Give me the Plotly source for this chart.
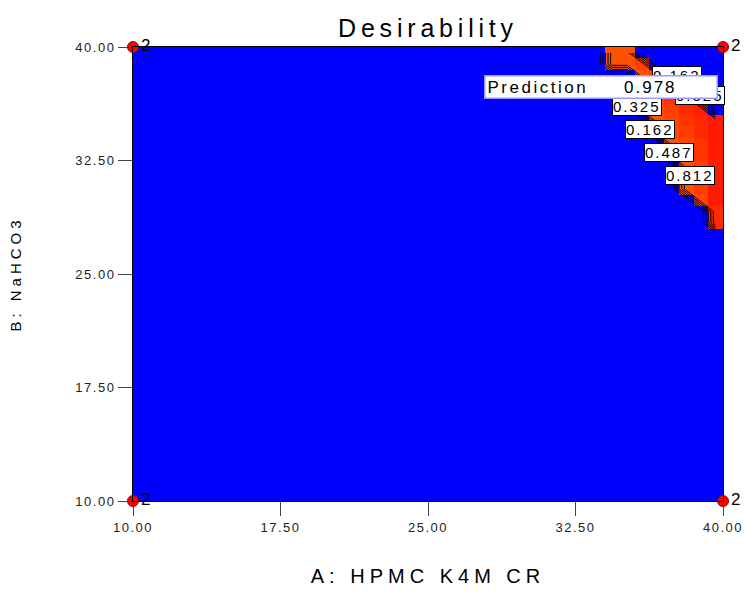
import numpy as np
import plotly.graph_objects as go

# Design space: factor ranges and grid resolution
a_min, a_max = 10.0, 40.0          # A: HPMC K4M CR
b_min, b_max = 10.0, 40.0          # B: NaHCO3
n_cells = 40

# Desirability values in the top-right corner of the grid
# (rows listed from B = 40 downwards, columns for the last 8 A-cells; all other cells are 0)
corner_rows = [
    [0.92, 0.92, 0.00, 0.00, 0.00, 0.00, 0.00, 0.000],
    [0.92, 0.92, 0.94, 0.00, 0.00, 0.00, 0.00, 0.000],
    [0.00, 0.00, 0.92, 0.94, 0.00, 0.00, 0.00, 0.000],
    [0.00, 0.00, 0.92, 0.94, 0.95, 0.00, 0.00, 0.000],
    [0.00, 0.00, 0.92, 0.93, 0.95, 0.96, 0.00, 0.000],
    [0.00, 0.00, 0.92, 0.93, 0.94, 0.96, 0.97, 0.000],
    [0.00, 0.00, 0.00, 0.92, 0.93, 0.95, 0.96, 0.975],
    [0.00, 0.00, 0.00, 0.92, 0.93, 0.94, 0.96, 0.975],
    [0.00, 0.00, 0.00, 0.00, 0.92, 0.93, 0.95, 0.975],
    [0.00, 0.00, 0.00, 0.00, 0.92, 0.93, 0.95, 0.975],
    [0.00, 0.00, 0.00, 0.00, 0.00, 0.92, 0.94, 0.975],
    [0.00, 0.00, 0.00, 0.00, 0.00, 0.92, 0.94, 0.975],
    [0.00, 0.00, 0.00, 0.00, 0.00, 0.92, 0.94, 0.975],
    [0.00, 0.00, 0.00, 0.00, 0.00, 0.00, 0.93, 0.975],
    [0.00, 0.00, 0.00, 0.00, 0.00, 0.00, 0.00, 0.960],
    [0.00, 0.00, 0.00, 0.00, 0.00, 0.00, 0.00, 0.960],
]

# Contour levels and where their labels sit (A, B)
contour_levels = [0.1625, 0.325, 0.4875, 0.65, 0.8125]
label_values = [0.162, 0.325, 0.325, 0.162, 0.487, 0.812]
label_a = [37.66, 38.83, 35.63, 36.29, 37.25, 38.32]
label_b = [38.15, 36.80, 36.10, 34.58, 33.00, 31.48]

# Design points (corners of the square, replicated twice)
design_a = [10.0, 10.0, 40.0, 40.0]
design_b = [10.0, 40.0, 10.0, 40.0]
design_reps = [2, 2, 2, 2]

# Optimum prediction flag
prediction_value = 0.978
flag_a, flag_b = 27.85, 37.33

tick_vals = [10.0, 17.5, 25.0, 32.5, 40.0]


def spaced(text, px):
    """Wrap text in a span with extra letter spacing."""
    return f'<span style="letter-spacing:{px}px">{text}</span>'


# Build the full grid (row 0 = lowest B)
step = (a_max - a_min) / n_cells
a_centers = a_min + step / 2 + step * np.arange(n_cells)
b_centers = b_min + step / 2 + step * np.arange(n_cells)
z = np.zeros((n_cells, n_cells))
block = np.array(corner_rows)
n_r, n_c = block.shape
for i in range(n_r):
    z[n_cells - 1 - i, n_cells - n_c:] = block[i]

colorscale = [[0.0, "#0000ff"], [0.25, "#00ffff"], [0.5, "#00ff00"],
              [0.75, "#ffff00"], [1.0, "#ff0000"]]

fig = go.Figure()
fig.add_trace(go.Heatmap(
    x=a_centers, y=b_centers, z=z, zmin=0, zmax=1,
    colorscale=colorscale, showscale=False, zsmooth=False,
    hoverinfo="skip",
))
fig.add_trace(go.Contour(
    x=a_centers, y=b_centers, z=z,
    autocontour=False,
    contours=dict(start=contour_levels[0], end=contour_levels[-1],
                  size=contour_levels[1] - contour_levels[0], coloring="none"),
    line=dict(color="black", width=1, smoothing=0),
    showscale=False, hoverinfo="skip",
))
fig.add_trace(go.Scatter(
    x=design_a, y=design_b, mode="markers+text",
    text=[str(r) for r in design_reps], textposition="middle right",
    textfont=dict(family="Arial", size=17, color="black"),
    marker=dict(size=11, color="#ff0000", line=dict(color="#990000", width=1)),
    cliponaxis=False, hoverinfo="skip",
))

# Contour labels in small boxes
for a, b, v in zip(label_a, label_b, label_values):
    fig.add_annotation(
        x=a, y=b, text=spaced(f"{v:.3f}", 2), showarrow=False,
        font=dict(family="Arial", size=15, color="black"),
        bgcolor="white", bordercolor="black", borderwidth=1, borderpad=0,
    )

# Prediction flag (drawn last so it sits on top of the labels)
fig.add_annotation(
    x=flag_a, y=flag_b, xanchor="left", yanchor="middle",
    text=spaced("Prediction", 2.5), align="left", width=227, height=17,
    showarrow=False, font=dict(family="Arial", size=17, color="black"),
    bgcolor="white", bordercolor="#9a9aff", borderwidth=1.5, borderpad=2,
)
fig.add_annotation(
    x=36.29, y=flag_b, text=spaced(f"{prediction_value:.3f}", 2),
    showarrow=False, font=dict(family="Arial", size=17, color="black"),
)

tick_text = [spaced(f"{v:.2f}", 1.5) for v in tick_vals]

axis_common = dict(
    tickvals=tick_vals, ticktext=tick_text,
    ticks="outside", ticklen=14, tickcolor="#444", tickwidth=1,
    showline=True, linecolor="black", linewidth=1, mirror=True,
    showgrid=False, zeroline=False, automargin=False,
    tickfont=dict(family="Arial", size=13, color="#222"),
)

fig.update_layout(
    width=744, height=596,
    margin=dict(l=133, r=21, t=47, b=95),
    paper_bgcolor="white", plot_bgcolor="#0000ff",
    showlegend=False,
    title=dict(text=spaced("Desirability", 4.8), xref="paper", x=0.5, xanchor="center",
               yref="container", y=0.953, yanchor="middle",
               font=dict(family="Arial", size=25, color="black")),
    xaxis=dict(axis_common, range=[a_min, a_max],
               title=dict(text=spaced("A: HPMC K4M CR", 5), standoff=35,
                          font=dict(family="Arial", size=20, color="black"))),
    yaxis=dict(axis_common, range=[b_min, b_max],
               title=dict(text=spaced("B: NaHCO3", 4), standoff=50,
                          font=dict(family="Arial", size=15, color="black"))),
)

fig.write_html("out.html")
